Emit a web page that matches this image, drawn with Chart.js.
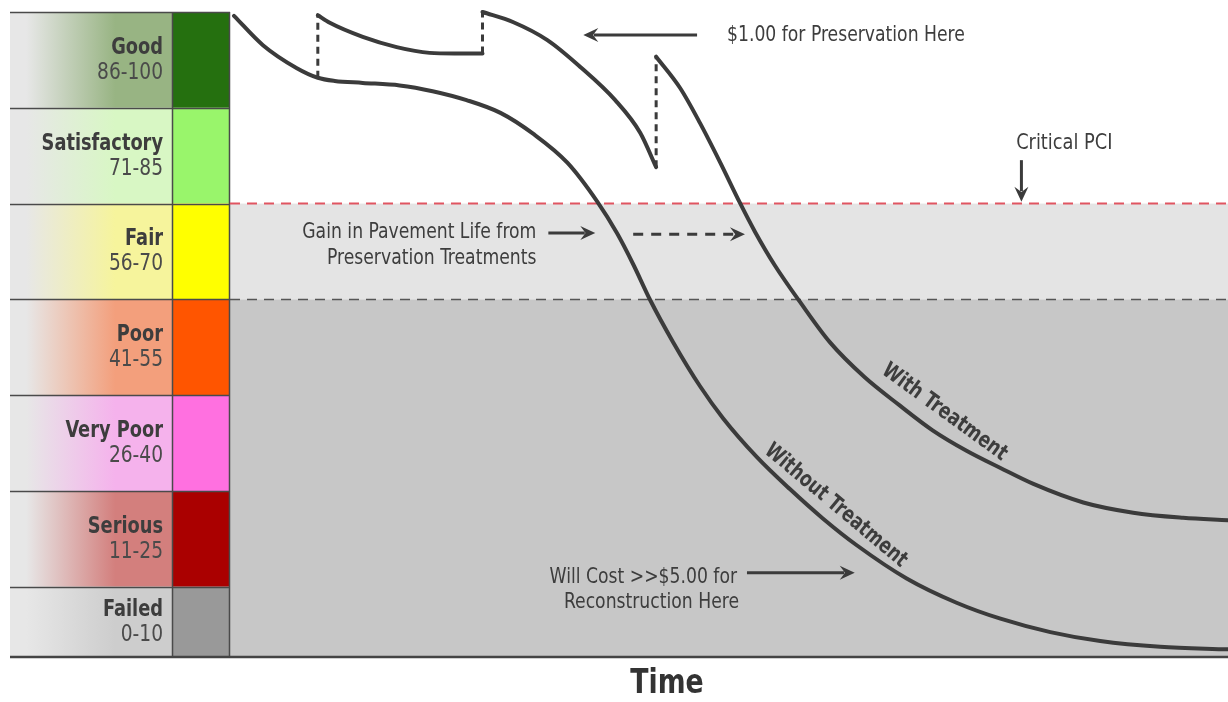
<!DOCTYPE html>
<html>
<head>
<meta charset="utf-8">
<script src="https://cdn.jsdelivr.net/npm/chart.js@4.4.1/dist/chart.umd.min.js"></script>
<style>
html,body{margin:0;padding:0;background:#fff;overflow:hidden}
#wrap{width:1228px;height:702px;position:relative}
</style>
</head>
<body>
<div id="wrap"><canvas id="c" width="1228" height="702"></canvas></div>
<script>
// ---------- data ----------
const conditionNames  = ["Good","Satisfactory","Fair","Poor","Very Poor","Serious","Failed"];
const conditionRanges = ["86-100","71-85","56-70","41-55","26-40","11-25","0-10"];
const rowTops    = [100, 85, 70, 55, 40, 25, 10];
const rowBottoms = [85, 70, 55, 40, 25, 10, -1];
const swatchColors = ["#25700f","#99f56b","#ffff00","#ff5500","#ff70e0","#aa0000","#999999"];
const tintColors   = ["#98b483","#d8f7c4","#f6f49c","#f39f7c","#f5b2ec","#d37f7d","#cdcdcd"];
const criticalPCI = 70;
const fairFloor = 55;

const withoutTreatment = [
  {x:0.4,y:99.4},{x:3.3,y:94.8},{x:6.7,y:91.2},{x:8.8,y:89.7},{x:10.5,y:89.2},
  {x:13.3,y:88.9},{x:17.0,y:88.5},{x:20.3,y:87.6},{x:23.7,y:86.2},{x:27.1,y:84.2},
  {x:30.4,y:80.9},{x:33.8,y:76.4},{x:36.8,y:70.3},{x:38.8,y:65.3},{x:40.4,y:60.5},
  {x:42.1,y:54.9},{x:44.4,y:48.3},{x:47.1,y:41.4},{x:49.4,y:36.4},{x:52.8,y:30.3},
  {x:56.1,y:25.3},{x:59.4,y:20.7},{x:62.8,y:16.5},{x:67.8,y:11.3},{x:72.8,y:7.5},
  {x:77.2,y:5.0},{x:82.2,y:2.9},{x:87.2,y:1.5},{x:93.2,y:0.6},{x:100,y:0.2}
];
const withTreatment1 = [
  {x:8.8,y:99.5},{x:10.0,y:98.3},{x:13.3,y:96.1},{x:16.7,y:94.5},{x:20.0,y:93.6},
  {x:22.5,y:93.5},{x:25.3,y:93.5}
];
const withTreatment2 = [
  {x:25.3,y:100},{x:28.4,y:98.4},{x:31.8,y:95.6},{x:35.1,y:91.4},{x:38.6,y:86.2},
  {x:41.1,y:81.1},{x:42.7,y:75.7}
];
const withTreatment3 = [
  {x:42.7,y:93.0},{x:45.1,y:88.1},{x:47.1,y:82.6},{x:49.1,y:76.5},{x:51.1,y:70.1},
  {x:52.6,y:65.6},{x:54.6,y:60.3},{x:57.2,y:54.4},{x:60.1,y:48.3},{x:63.6,y:42.8},
  {x:67.1,y:38.4},{x:70.4,y:34.5},{x:73.8,y:31.3},{x:77.2,y:28.6},{x:80.5,y:26.1},
  {x:85.5,y:23.2},{x:90.5,y:21.6},{x:95.5,y:20.8},{x:100,y:20.4}
];
const treatmentJump1 = [{x:8.8,y:89.7},{x:8.8,y:99.5}];
const treatmentJump2 = [{x:25.3,y:93.5},{x:25.3,y:100}];
const treatmentJump3 = [{x:42.7,y:75.7},{x:42.7,y:93.0}];
const criticalLine = [{x:0,y:criticalPCI},{x:100,y:criticalPCI}];
const fairLine = [{x:0,y:fairFloor},{x:100,y:fairFloor}];

// ---------- drawing ----------
const FONT = '"Liberation Sans Narrow","DejaVu Sans Condensed","Liberation Sans",sans-serif';
const INK = '#3b3b3b';

function txt(ctx, s, x, y, font, align, sx){
  ctx.save();
  ctx.font = font; ctx.textAlign = align; ctx.textBaseline = 'middle';
  ctx.translate(x, y); ctx.scale(sx, 1);
  ctx.fillText(s, 0, 0);
  ctx.restore();
}

function arrow(ctx, x1, y1, x2, y2, dashed){
  const ang = Math.atan2(y2-y1, x2-x1);
  const hl = 15, hw = 7;
  ctx.save();
  ctx.strokeStyle = INK; ctx.fillStyle = INK; ctx.lineWidth = 3;
  if (dashed) ctx.setLineDash([10,8]);
  ctx.beginPath();
  ctx.moveTo(x1,y1);
  ctx.lineTo(x2 - Math.cos(ang)*hl*0.7, y2 - Math.sin(ang)*hl*0.7);
  ctx.stroke();
  ctx.setLineDash([]);
  ctx.translate(x2,y2); ctx.rotate(ang);
  ctx.beginPath();
  ctx.moveTo(0,0); ctx.lineTo(-hl,-hw); ctx.lineTo(-hl*0.65,0); ctx.lineTo(-hl,hw);
  ctx.closePath(); ctx.fill();
  ctx.restore();
}

const decor = {
  id:'decor',
  beforeDatasetsDraw(chart){
    const {ctx, chartArea:a, scales:{x, y}} = chart;
    ctx.save();
    const y70 = y.getPixelForValue(criticalPCI);
    const y55 = y.getPixelForValue(fairFloor);
    const yb  = y.getPixelForValue(y.min);
    ctx.fillStyle = '#e4e4e4';
    ctx.fillRect(a.left, y70, a.right-a.left, y55-y70);
    ctx.fillStyle = '#c7c7c7';
    ctx.fillRect(a.left, y55, a.right-a.left, yb-y55);

    // left condition panel
    const L = 10, M = 172, R = a.left - 1;
    for (let i=0;i<conditionNames.length;i++){
      const t = y.getPixelForValue(rowTops[i]);
      const b = y.getPixelForValue(rowBottoms[i]);
      const g = ctx.createLinearGradient(L,0,M,0);
      g.addColorStop(0,'#e7e7e7');
      g.addColorStop(0.1,'#e7e7e7');
      g.addColorStop(0.65,tintColors[i]);
      g.addColorStop(1,tintColors[i]);
      ctx.fillStyle = g;
      ctx.fillRect(L,t,M-L,b-t);
      ctx.fillStyle = swatchColors[i];
      ctx.fillRect(M,t,R-M,b-t);
      const c = (t+b)/2;
      ctx.fillStyle = '#3d3d3d';
      txt(ctx, conditionNames[i], 163, c-12, 'bold 23px ' + FONT, 'right', 0.86);
      ctx.fillStyle = '#4a4a4a';
      txt(ctx, conditionRanges[i], 163, c+13, '23px ' + FONT, 'right', 0.9);
    }
    ctx.strokeStyle = '#4a4a4a'; ctx.lineWidth = 1.5;
    ctx.beginPath();
    for (let i=0;i<rowTops.length;i++){
      const t = Math.round(y.getPixelForValue(rowTops[i]))+0.5;
      ctx.moveTo(L,t); ctx.lineTo(R+1,t);
    }
    ctx.moveTo(M+0.5, y.getPixelForValue(rowTops[0])); ctx.lineTo(M+0.5, yb);
    ctx.moveTo(R+0.5, y.getPixelForValue(rowTops[0])); ctx.lineTo(R+0.5, yb);
    ctx.stroke();
    ctx.restore();
  },
  afterDatasetsDraw(chart){
    const {ctx, chartArea:a, scales:{x, y}} = chart;
    const px = v => x.getPixelForValue(v), py = v => y.getPixelForValue(v);
    ctx.save();
    // bottom axis line
    ctx.strokeStyle = '#444'; ctx.lineWidth = 2.5;
    ctx.beginPath();
    ctx.moveTo(10, py(y.min)); ctx.lineTo(a.right, py(y.min));
    ctx.stroke();

    ctx.fillStyle = '#3d3d3d';
    const F = '22px ' + FONT, S = 0.87;
    txt(ctx, '$1.00 for Preservation Here', px(49.8), py(96.4), F, 'left', S);
    arrow(ctx, px(46.8), py(96.4), px(35.4), py(96.4));
    txt(ctx, 'Critical PCI', px(83.6), py(79.5), F, 'center', 0.9);
    arrow(ctx, px(79.3), py(76.8), px(79.3), py(70.3));
    txt(ctx, 'Gain in Pavement Life from', px(30.7), py(65.5), F, 'right', S);
    txt(ctx, 'Preservation Treatments', px(30.7), py(61.5), F, 'right', S);
    arrow(ctx, px(31.9), py(65.4), px(36.6), py(65.4));
    arrow(ctx, px(40.4), py(65.2), px(51.6), py(65.2), true);
    txt(ctx, 'Will Cost >>$5.00 for', px(50.8), py(11.5), F, 'right', S);
    txt(ctx, 'Reconstruction Here', px(51.0), py(7.6), F, 'right', S);
    arrow(ctx, px(51.8), py(12.2), px(62.6), py(12.2));

    // curve labels
    ctx.save();
    ctx.translate(px(71.6), py(37.3));
    ctx.rotate(36*Math.PI/180);
    txt(ctx, 'With Treatment', 0, 0, 'bold 22px ' + FONT, 'center', 0.86);
    ctx.restore();
    ctx.save();
    ctx.translate(px(60.7), py(22.7));
    ctx.rotate(40*Math.PI/180);
    txt(ctx, 'Without Treatment', 0, 0, 'bold 22px ' + FONT, 'center', 0.85);
    ctx.restore();

    // axis title
    ctx.fillStyle = '#333';
    txt(ctx, 'Time', 667, 684, 'bold 33px ' + FONT, 'center', 0.9);
    ctx.restore();
  }
};

const curve = (data) => ({data, showLine:true, borderColor:INK, borderWidth:4,
  borderCapStyle:'round', borderJoinStyle:'round', pointRadius:0,
  cubicInterpolationMode:'monotone', clip:false});
const jump = (data) => ({data, showLine:true, borderColor:INK, borderWidth:3,
  borderDash:[7,5], pointRadius:0, tension:0, clip:false});

new Chart(document.getElementById('c'), {
  type:'scatter',
  data:{datasets:[
    Object.assign(curve(withoutTreatment),{label:'Without Treatment'}),
    Object.assign(curve(withTreatment1),{label:'With Treatment'}),
    Object.assign(curve(withTreatment2),{label:'With Treatment'}),
    Object.assign(curve(withTreatment3),{label:'With Treatment'}),
    jump(treatmentJump1), jump(treatmentJump2), jump(treatmentJump3),
    {data:criticalLine, showLine:true, borderColor:'#e05561', borderWidth:2, borderDash:[10,7], pointRadius:0},
    {data:fairLine, showLine:true, borderColor:'#555555', borderWidth:1.5, borderDash:[10,7], pointRadius:0}
  ]},
  options:{
    responsive:false, animation:false, devicePixelRatio:1,
    layout:{padding:{left:230, right:0, top:12, bottom:45}},
    plugins:{legend:{display:false}, tooltip:{enabled:false}},
    scales:{
      x:{type:'linear', min:0, max:100, display:false},
      y:{type:'linear', min:-1, max:100, display:false}
    }
  },
  plugins:[decor]
});
</script>
</body>
</html>
